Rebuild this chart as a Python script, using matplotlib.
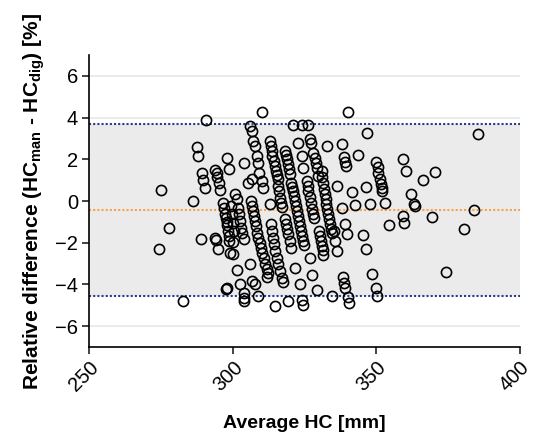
import matplotlib
matplotlib.use("Agg")
import matplotlib.pyplot as plt

plt.rcParams['font.family'] = ['Liberation Sans', 'DejaVu Sans']
plt.rcParams['mathtext.fontset'] = 'custom'
plt.rcParams['mathtext.rm'] = 'Liberation Sans'
plt.rcParams['mathtext.bf'] = 'Liberation Sans:bold'

# average head circumference [mm] and relative difference [%]
puntos = [
    # lado izquierdo
    (275.0, 0.53), (277.8, -1.30), (274.1, -2.28), (282.6, -4.81), (286.2, -0.02),
    (288.8, -1.81), (290.7, 3.88), (287.4, 2.60), (288.0, 2.15), (289.3, 1.33),
    (289.7, 1.00), (290.3, 0.64), (293.8, -1.76), (294.1, -1.85), (294.7, -2.32),
    (297.5, -4.20), (297.9, 2.05), (298.5, 1.54), (293.8, 1.48), (294.4, 1.35),
    (294.6, 1.15), (295.1, 0.88), (295.5, 0.51),
    (296.5, -0.10), (297.0, -0.32), (297.4, -0.61), (297.6, -0.80), (297.9, -1.00),
    (298.1, -1.15), (298.3, -1.44), (298.6, -1.70), (298.8, -1.92), (299.0, -2.49),
    (299.4, -0.24), (299.7, -0.63), (300.1, -1.06), (300.4, -1.44), (300.1, -1.97),
    # 300 - 312
    (303.7, 1.84), (305.2, 0.88), (306.8, 1.04),
    (306.0, 3.61), (306.6, 3.37), (307.1, 2.88), (307.7, 2.64), (308.3, 2.16),
    (308.7, 1.84), (309.2, 1.36), (310.1, 0.96), (310.6, 0.64), (310.1, 4.29),
    (300.8, 0.32), (301.4, 0.08),
    (301.9, -0.32), (302.3, -0.64), (302.5, -0.96), (302.7, -1.28), (303.1, -1.52), (303.7, -1.84),
    (306.3, 0.00), (306.6, -0.24), (307.0, -0.48), (307.5, -0.72), (307.7, -0.96),
    (308.1, -1.20), (308.4, -1.52), (308.9, -1.76), (309.5, -2.00), (309.8, -2.25),
    (310.1, -2.49), (311.0, -2.73), (311.2, -3.04), (311.8, -3.28), (312.2, -3.45),
    (300.2, -2.52), (301.4, -3.32), (306.0, -3.04), (297.9, -4.17), (302.5, -3.98),
    (307.7, -4.00), (303.7, -4.41), (304.0, -4.65), (303.7, -4.81), (308.9, -4.57),
    (306.6, -3.85), (312.0, -3.65),
    # 312 - 325
    (312.9, 2.88), (313.3, 2.64), (313.5, 2.40), (313.7, 2.16), (314.2, 1.92),
    (314.5, 1.68), (314.9, 1.44), (315.2, 1.25), (315.6, 1.04),
    (315.8, 0.72), (316.1, 0.48), (316.3, 0.16), (316.9, -0.08), (317.1, -0.29),
    (318.2, 2.40), (318.6, 2.21), (318.9, 2.00), (319.2, 1.78), (319.6, 1.54), (319.9, 1.30),
    (320.4, 0.88), (320.6, 0.67), (321.0, 0.48), (321.3, 0.24), (321.8, 0.00),
    (322.1, -0.24), (322.4, -0.48), (322.7, -0.72), (323.1, -0.96), (323.4, -1.20),
    (323.8, -1.44), (324.1, -1.68), (324.5, -1.92), (324.8, -2.12),
    (313.4, -1.12), (313.7, -1.44), (314.0, -1.76), (314.4, -2.07), (314.7, -2.40),
    (315.3, -2.73), (315.8, -3.04), (316.4, -3.37), (317.0, -3.69), (317.5, -3.89),
    (318.1, -0.88), (318.6, -1.12), (319.0, -1.36), (319.2, -1.60), (319.8, -1.92), (320.2, -2.25),
    (313.0, -0.16), (321.8, -3.21), (323.3, -4.00), (319.2, -4.81), (323.9, -4.73),
    (324.5, -4.97), (314.6, -5.05),
    (321.0, 3.65), (323.9, 3.65), (322.7, 2.80), (323.9, 2.16), (324.5, 1.60),
    # 325 - 341
    (326.3, 3.65), (326.9, 2.97), (327.2, 2.80), (332.7, 2.64), (337.9, 2.73),
    (328.0, 2.31), (328.5, 2.07), (328.9, 1.83), (329.2, 1.59), (329.6, 1.20),
    (325.7, 0.96), (326.0, 0.72), (326.3, 0.48), (326.8, 0.19), (327.1, -0.10),
    (327.5, -0.38), (327.8, -0.63), (328.1, -0.82),
    (330.9, 1.44), (331.2, 1.15), (331.5, 0.87), (331.8, 0.58), (332.0, 0.34),
    (332.3, 0.10), (332.6, -0.14), (332.9, -0.38), (333.2, -0.63), (333.4, -0.87),
    (333.7, -1.11), (334.0, -1.32), (334.4, -1.54),
    (336.2, 0.72), (337.9, -0.32),
    (329.9, -1.44), (330.2, -1.68), (330.6, -1.92), (330.9, -2.16), (331.3, -2.36), (331.5, -2.57),
    (335.1, -1.44), (335.4, -1.92), (336.1, -2.40),
    (326.9, -2.73), (327.5, -3.53), (329.2, -4.25), (334.4, -4.57),
    (338.2, -3.65), (338.6, -3.92), (339.1, -4.18), (340.0, -4.62), (340.5, -4.90),
    (340.0, 4.29), (338.6, 2.12), (339.1, 1.88), (339.4, 1.68),
    # lado derecho
    (343.7, 2.21), (346.8, 3.28),
    (349.9, 1.88), (350.4, 1.63), (350.7, 1.35), (351.1, 1.06), (351.5, 0.82),
    (351.8, 0.63), (352.1, 0.46), (353.1, -0.08),
    (341.6, 0.45), (346.3, 0.67), (342.6, -0.19), (347.8, -0.16), (339.1, -1.09),
    (339.9, -1.57), (345.3, -1.63), (346.4, -2.32), (348.4, -3.50), (349.9, -4.17), (350.3, -4.57),
    (359.2, 2.00), (360.3, 1.44), (366.2, 1.00), (370.4, 1.41), (362.1, 0.35),
    (363.1, -0.16), (363.5, -0.24), (359.2, -0.72), (359.6, -1.07), (354.5, -1.15),
    (369.3, -0.77), (384.0, -0.45), (380.6, -1.36), (374.3, -3.38), (385.2, 3.21),
]
promedio = [p[0] for p in puntos]
diferencia = [p[1] for p in puntos]

media = -0.45
limite_sup = 3.68
limite_inf = -4.57

fig = plt.figure(figsize=(5.33, 4.34), dpi=100)
ax = fig.add_axes([0.1676, 0.2005, 0.808, 0.6725])

ax.axhspan(limite_inf, limite_sup, color="#ebebeb", zorder=0, lw=0)
for g in [-6, -4, -2, 0, 2, 4, 6]:
    ax.axhline(g, color="#ebebeb", lw=1.5, zorder=0.5)
ax.axhline(limite_sup, color="#2b3990", lw=1.5, ls=(0, (1, 1)), zorder=1)
ax.axhline(limite_inf, color="#2b3990", lw=1.5, ls=(0, (1, 1)), zorder=1)
ax.axhline(media, color="#f7a24f", lw=1.5, ls=(0, (1, 1)), zorder=1)

ax.plot(promedio, diferencia, 'o', markersize=7.3, markerfacecolor="none",
        markeredgecolor="black", markeredgewidth=1.2, zorder=3)

ax.set_xlim(250, 400)
ax.set_ylim(-7, 7)
ax.set_xticks([250, 300, 350, 400])
ax.set_yticks([-6, -4, -2, 0, 2, 4, 6])
ax.spines['top'].set_visible(False)
ax.spines['right'].set_visible(False)
ax.spines['left'].set_linewidth(1.2)
ax.spines['bottom'].set_linewidth(1.2)
ax.tick_params(axis='both', labelsize=14.5, width=1.2, length=5, color="#222222", pad=3)
plt.setp(ax.get_xticklabels(), rotation=45, ha='right', rotation_mode='anchor')

ax.set_xlabel("Average HC [mm]", fontsize=14, fontweight='bold', labelpad=14)
ax.set_ylabel(r"Relative difference (HC$_{\mathbf{man}}$ - HC$_{\mathbf{dig}}$) [%]",
              fontsize=15, fontweight='bold', labelpad=6)

fig.savefig("out.png", dpi=100)
